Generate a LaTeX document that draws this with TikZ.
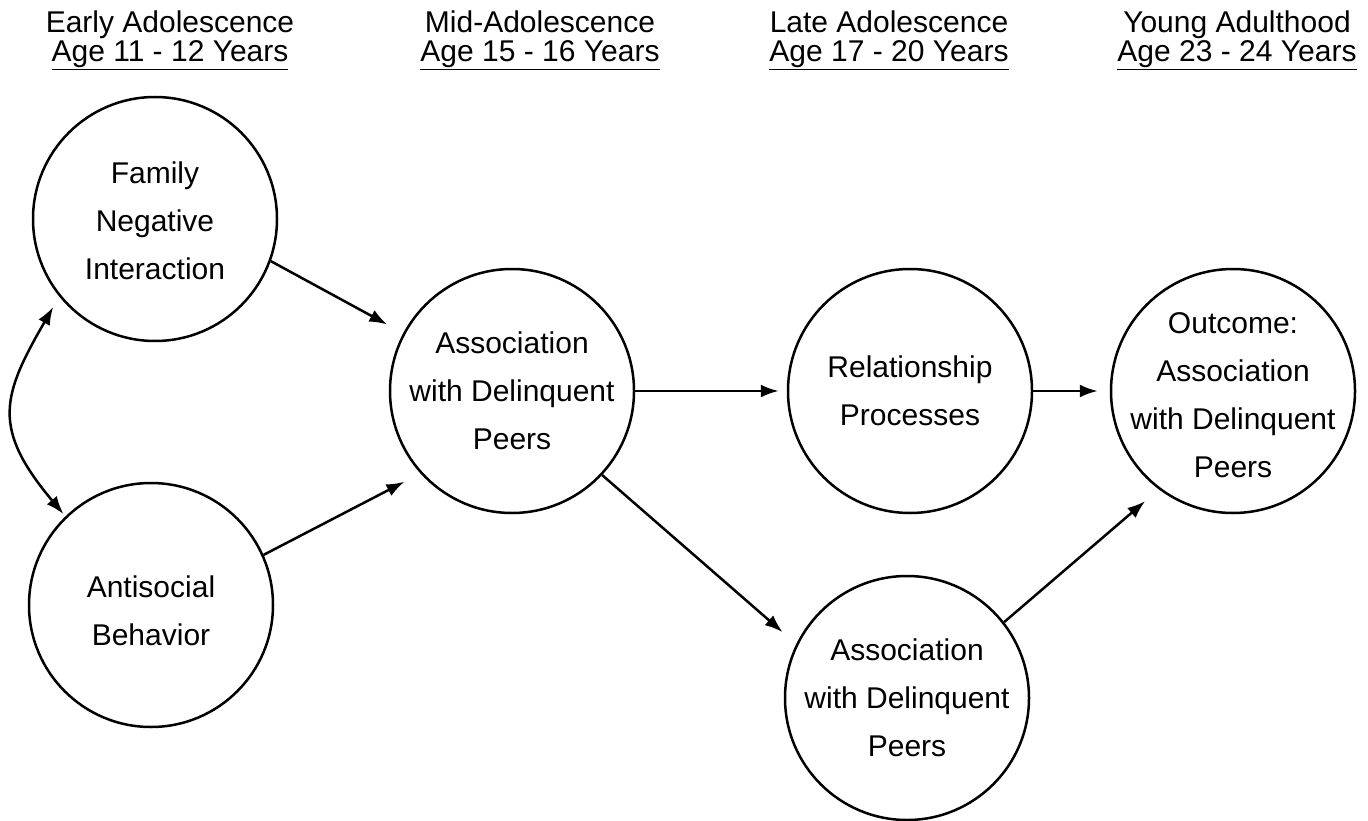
\documentclass[tikz,border=0pt]{standalone}
\usepackage{fontspec}
\setmainfont{Liberation Sans}
\usetikzlibrary{arrows.meta}
\begin{document}
\begin{tikzpicture}[x=1pt,y=-1pt,
  every node/.style={inner sep=0pt},
  state/.style={circle, draw, line width=2.5pt, minimum size=244pt},
  txt/.style={align=center, font=\fontsize{30}{48}\selectfont},
  head/.style={anchor=north, align=center, font=\fontsize{30}{29}\selectfont},
  tip/.style={Latex[length=18pt,width=13pt]},
  arr/.style={line width=2.5pt, -{Latex[length=18pt,width=13pt]}, shorten >=18pt},
  ]
\useasboundingbox (0,0) rectangle (1368,821);
% headers
\node[head] (h1) at (170,11) {Early Adolescence\\\underline{Age 11 - 12 Years}};
\node[head] (h2) at (540,11) {Mid-Adolescence\\\underline{Age 15 - 16 Years}};
\node[head] (h3) at (889,11) {Late Adolescence\\\underline{Age 17 - 20 Years}};
\node[head] (h4) at (1237,11) {Young Adulthood\\\underline{Age 23 - 24 Years}};
% circles
\node[state] (fam) at (155,219) {};
\node[txt] (famt) at ([yshift=-2pt]fam.center) {Family\\Negative\\Interaction};
\node[state] (anti) at (151,605) {};
\node[txt] (antit) at ([yshift=-6pt]anti.center) {Antisocial\\Behavior};
\node[state] (mid) at (512,391) {};
\node[txt] (midt) at (mid) {Association\\with Delinquent\\Peers};
\node[state] (rel) at (910,391) {};
\node[txt] (relt) at (rel) {Relationship\\Processes};
\node[state] (late) at (907,698) {};
\node[txt] (latet) at (late) {Association\\with Delinquent\\Peers};
\node[state] (out) at (1233,391) {};
\node[txt] (outt) at ([yshift=-4pt]out.center) {Outcome:\\Association\\with Delinquent\\Peers};
% connectors
\draw[arr] (fam.-20) -- (mid.152);
\draw[arr] (anti.24) -- (mid.222);
\draw[arr, shorten >=8pt] (mid.east) -- (rel.west);
\draw[arr, shorten >=12pt] (rel.east) -- (out.west);
\draw[arr] (mid.-43) -- (late.154);
\draw[arr] (late.38) -- (out.233);
\draw[line width=2.5pt, {Latex[length=18pt,width=13pt]}-{Latex[length=18pt,width=13pt]}, shorten <=12pt, shorten >=3pt]
  (fam.219) .. controls +(-57.5,99.6) and +(-73.9,-88.1) .. (anti.134);
\end{tikzpicture}
\end{document}
